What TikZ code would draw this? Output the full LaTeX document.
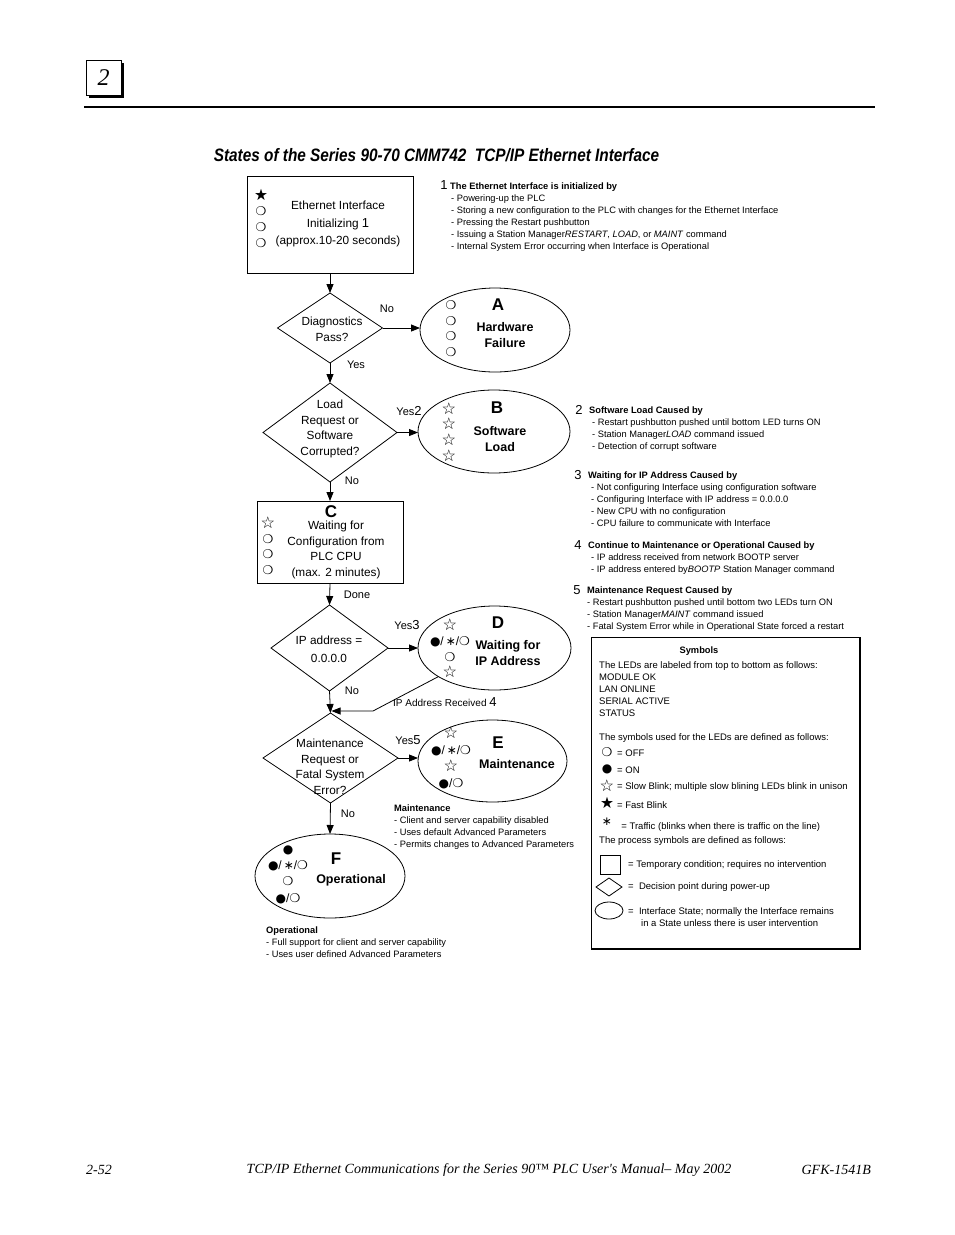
\documentclass[tikz,border=0pt]{standalone}
\usepackage{fontspec}
\setmainfont{Liberation Sans}
\newfontfamily\ledfont{DejaVu Sans}
\newfontfamily\pagefont{Liberation Serif}
\usetikzlibrary{arrows.meta,shapes.geometric,shadows}

% LED symbols
\newcommand{\loff}{{\ledfont ❍}}
\newcommand{\lon}{{\ledfont ●}}
\newcommand{\lslow}{\raisebox{-0.5pt}{\scalebox{1.35}{\ledfont ☆}}}
\newcommand{\lfast}{\raisebox{-0.5pt}{\scalebox{1.3}{\ledfont ★}}}
\newcommand{\ltraf}{{\ledfont ∗}}
\newcommand{\lmix}{\lon/\,\ltraf/\loff}
\newcommand{\bignum}[1]{{\fontsize{13}{13}\selectfont #1}}

\begin{document}
\begin{tikzpicture}[x=1pt,y=-1pt,
    box/.style={draw,line width=0.8pt,inner sep=0,outer sep=0},
    decision/.style={diamond,draw,line width=0.8pt,inner sep=0,outer sep=0},
    state/.style={ellipse,draw,line width=0.8pt,inner sep=0,outer sep=0},
    ntext/.style={align=center,inner sep=0,font=\fontsize{11.8}{15.5}\selectfont},
    stext/.style={align=center,inner sep=0,font=\fontsize{12.5}{16}\selectfont\bfseries},
    letter/.style={inner sep=0,font=\fontsize{17}{17}\selectfont\bfseries},
    leds/.style={align=center,inner sep=0,font=\fontsize{12}{15.7}\selectfont},
    yn/.style={inner sep=0,font=\fontsize{11}{11}\selectfont},
    note/.style={align=left,anchor=north west,inner sep=0,font=\fontsize{9.3}{12}\selectfont},
    stxt/.style={align=left,inner sep=0,font=\fontsize{9.5}{12}\selectfont},
    num/.style={inner sep=0,font=\fontsize{13}{13}\selectfont},
    arr/.style={-{Triangle[length=9pt,width=7pt]},line width=0.8pt}]
  \useasboundingbox (0,0) rectangle (954,1235);

  % page header
  \node[box,fill=white,minimum size=35,
    drop shadow={shadow xshift=3pt,shadow yshift=-3pt,fill=black,opacity=1},
    font=\pagefont\itshape\fontsize{24}{24}\selectfont] (chap) at (103.5,77.5) {2};
  \draw[line width=1.6pt] (84,107) coordinate (ruleL) -- (352,107) coordinate (ruleM);
  \draw[line width=1.1pt] (ruleM) -- (875,107) coordinate (ruleR);
  \node[inner sep=0,font=\bfseries\itshape\fontsize{18}{18}\selectfont] (title) at (436.5,155)
    {\scalebox{0.853}[1]{States of the Series 90-70 CMM742\ \ TCP/IP Ethernet Interface}};

  % flow chart
  \node[box,minimum width=166,minimum height=97] (init) at (330,224.5) {};
  \node[ntext,font=\fontsize{11.8}{17.5}\selectfont] (initt) at (338,224)
    {Ethernet Interface\\Initializing \bignum{1}\\(approx.10-20 seconds)};
  \node[leds] (initled) at (261,218.5) {\lfast\\\loff\\\loff\\\loff};

  \node[decision,minimum width=105,minimum height=70] (d1) at (330,328) {};
  \node[ntext] (d1t) at (332,329.5) {Diagnostics\\Pass?};
  \node[state,minimum width=150,minimum height=84] (astate) at (495,330) {};
  \node[letter] (aname) at (498,305) {A};
  \node[stext] (atext) at (505,335.5) {Hardware\\Failure};
  \node[leds] (aled) at (451,328.5) {\loff\\\loff\\\loff\\\loff};

  \node[decision,minimum width=134,minimum height=99] (d2) at (330,432.5) {};
  \node[ntext] (d2t) at (330,429) {Load\\Request or\\Software\\Corrupted?};
  \node[state,minimum width=152,minimum height=83] (bstate) at (494,431.5) {};
  \node[letter] (bname) at (497,408) {B};
  \node[stext] (btext) at (500,439) {Software\\Load};
  \node[leds] (bled) at (449,432) {\lslow\\\lslow\\\lslow\\\lslow};

  \node[box,minimum width=146,minimum height=82] (cbox) at (330,542) {};
  \node[letter] (cname) at (331,511.5) {C};
  \node[ntext] (ctext) at (336,550) {Waiting for\\Configuration from\\PLC CPU\\(max. 2 minutes)};
  \node[leds] (cled) at (268,545.5) {\lslow\\\loff\\\loff\\\loff};

  \node[decision,minimum width=117,minimum height=86] (d3) at (329.5,648) {};
  \node[ntext,font=\fontsize{11.8}{18}\selectfont] (d3t) at (329,649.5) {IP address =\\0.0.0.0};
  \node[state,minimum width=153,minimum height=84] (dstate) at (494.5,648) {};
  \node[letter] (dname) at (498,623) {D};
  \node[stext] (dtext) at (508,653.5) {Waiting for\\IP Address};
  \node[leds] (dled) at (450,648.5) {\lslow\\\lmix\\\loff\\\lslow};

  \node[decision,minimum width=135,minimum height=90] (d4) at (330.5,758) {};
  \node[ntext] (d4t) at (330,767) {Maintenance\\Request or\\Fatal System\\Error?};
  \node[state,minimum width=149,minimum height=82] (estate) at (492.5,761) {};
  \node[letter] (ename) at (498,743) {E};
  \node[stext] (etext) at (517,764.5) {Maintenance};
  \node[leds,font=\fontsize{12}{16.7}\selectfont] (eled) at (451,758) {\lslow\\\lmix\\\lslow\\\lon/\loff};

  \node[state,minimum width=150,minimum height=84] (fstate) at (330,876) {};
  \node[letter] (fname) at (336,859) {F};
  \node[stext] (ftext) at (351,880.5) {Operational};
  \node[leds,font=\fontsize{12}{16.3}\selectfont] (fled) at (288,874.5) {\lon\\\lmix\\\loff\\\lon/\loff};

  % connectors
  \draw[arr] (init.south) -- (d1.north);
  \draw[arr] (d1.east) -- (d1.east -| astate.west);
  \draw[arr] (d1.south) -- (d2.north);
  \draw[arr] (d2.east) -- (d2.east -| bstate.west);
  \draw[arr] (d2.south) -- (cbox.north);
  \draw[arr] (cbox.south) -- (d3.north);
  \draw[arr] (d3.east) -- (d3.east -| dstate.west);
  \draw[arr] (d3.south) -- (d4.north);
  \coordinate (back) at (373,711);
  \draw[arr,shorten >=2pt] (dstate.207) -- (back) -- (back -| d3.south);
  \draw[arr] (d4.east) -- (d4.east -| estate.west);
  \draw[arr] (d4.south) -- (fstate.north);

  \node[yn] (no1) at (387,309) {No};
  \node[yn] (yes1) at (356,365) {Yes};
  \node[yn] (yes2) at (409,411) {Yes\bignum{2}};
  \node[yn] (no2) at (352,481) {No};
  \node[yn] (done) at (357,595) {Done};
  \node[yn] (yes3) at (407,625) {Yes\bignum{3}};
  \node[yn] (no3) at (352,691) {No};
  \node[yn,font=\fontsize{10}{10}\selectfont,anchor=west] (recv) at (393,702) {IP Address Received \bignum{4}};
  \node[yn] (yes5) at (408,740) {Yes\bignum{5}};
  \node[yn] (no4) at (348,814) {No};

  % notes
  \node[num] (n1num) at (444,185) {1};
  \node[note] (n1) at (450,182.5) {\textbf{The Ethernet Interface is initialized by}\\
    \hspace*{1pt}- Powering-up the PLC\\
    \hspace*{1pt}- Storing a new configuration to the PLC with changes for the Ethernet Interface\\
    \hspace*{1pt}- Pressing the Restart pushbutton\\
    \hspace*{1pt}- Issuing a Station Manager\textit{RESTART}, \textit{LOAD}, or \textit{MAINT} command\\
    \hspace*{1pt}- Internal System Error occurring when Interface is Operational};
  \node[num] (n2num) at (579,410) {2};
  \node[note] (n2) at (589,407) {\textbf{Software Load Caused by}\\
    \hspace*{3pt}- Restart pushbutton pushed until bottom LED turns ON\\
    \hspace*{3pt}- Station Manager\textit{LOAD} command issued\\
    \hspace*{3pt}- Detection of corrupt software};
  \node[num] (n3num) at (578,475) {3};
  \node[note] (n3) at (588,472) {\textbf{Waiting for IP Address Caused by}\\
    \hspace*{3pt}- Not configuring Interface using configuration software\\
    \hspace*{3pt}- Configuring Interface with IP address = 0.0.0.0\\
    \hspace*{3pt}- New CPU with no configuration\\
    \hspace*{3pt}- CPU failure to communicate with Interface};
  \node[num] (n4num) at (578,545) {4};
  \node[note] (n4) at (588,542) {\textbf{Continue to Maintenance or Operational Caused by}\\
    \hspace*{3pt}- IP address received from network BOOTP server\\
    \hspace*{3pt}- IP address entered by\textit{BOOTP} Station Manager command};
  \node[num] (n5num) at (577,590) {5};
  \node[note] (n5) at (587,587) {\textbf{Maintenance Request Caused by}\\
    - Restart pushbutton pushed until bottom two LEDs turn ON\\
    - Station Manager\textit{MAINT} command issued\\
    - Fatal System Error while in Operational State forced a restart};
  \node[note] (mnote) at (394,805) {\textbf{Maintenance}\\
    - Client and server capability disabled\\
    - Uses default Advanced Parameters\\
    - Permits changes to Advanced Parameters};
  \node[note] (onote) at (266,927) {\textbf{Operational}\\
    - Full support for client and server capability\\
    - Uses user defined Advanced Parameters};

  % symbols legend
  \node[box,minimum width=269,minimum height=312,anchor=north west] (symbox) at (591,637) {};
  \draw[line width=1.4pt] (symbox.north east) -- (symbox.south east) -- (symbox.south west);
  \node[stxt,font=\fontsize{9.3}{12}\selectfont\bfseries] (symhead) at (699,651) {Symbols};
  \node[stxt,anchor=north west] (symtxt) at (599,661) {The LEDs are labeled from top to bottom as follows:\\
    MODULE OK\\LAN ONLINE\\SERIAL ACTIVE\\STATUS\\[12pt]
    The symbols used for the LEDs are defined as follows:};
  \foreach \ys/\yt/\s/\t [count=\k] in {752/753/\loff/{= OFF}, 769/770/\lon/{= ON},
      786/787/\lslow/{= Slow Blink; multiple slow blining LEDs blink in unison},
      803/805/\lfast/{= Fast Blink},
      822/827/\ltraf/{\ \,= Traffic (blinks when there is traffic on the line)}} {
    \node[leds] (sym\k) at (607,\ys) {\s};
    \node[stxt,anchor=west] (symt\k) at (617,\yt) {\t};
  }
  \node[stxt,anchor=west] (proc) at (599,841) {The process symbols are defined as follows:};
  \node[box,minimum width=20,minimum height=19] (psq) at (610,864.5) {};
  \node[stxt,anchor=west] (psqt) at (628,865) {= Temporary condition; requires no intervention};
  \node[decision,minimum width=26,minimum height=18] (pdia) at (609,887) {};
  \node[stxt,anchor=west] (pdiat) at (628,887) {=\ \ Decision point during power-up};
  \node[state,minimum width=28,minimum height=17] (pell) at (609,910.5) {};
  \node[stxt,anchor=north west] (pellt) at (628,907) {=\ \ Interface State; normally the Interface remains\\
    \hspace*{13pt}in a State unless there is user intervention};

  % page footer
  \node[inner sep=0,anchor=west,font=\pagefont\itshape\fontsize{14}{14}\selectfont] (pageno) at (86,1170) {2-52};
  \node[inner sep=0,font=\pagefont\itshape\fontsize{14}{14}\selectfont] (manual) at (489,1170)
    {TCP/IP Ethernet Communications for the Series 90™ PLC User's Manual– May 2002};
  \node[inner sep=0,anchor=east,font=\pagefont\itshape\fontsize{14}{14}\selectfont] (docno) at (871,1170) {GFK-1541B};
\end{tikzpicture}
\end{document}
